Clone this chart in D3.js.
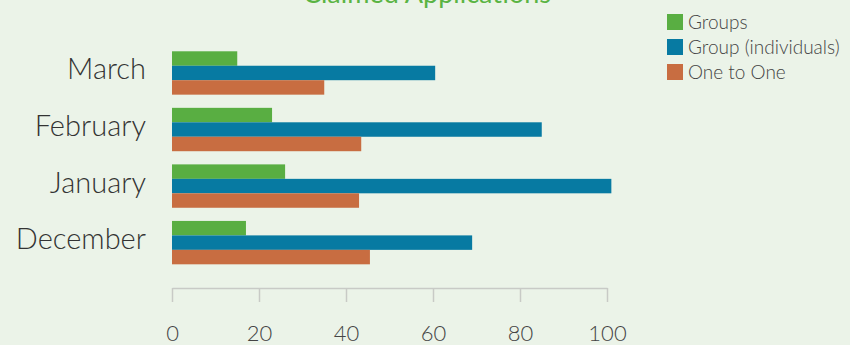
<!DOCTYPE html>
<html>
<head>
<meta charset="utf-8">
<script src="https://cdn.jsdelivr.net/npm/d3@7"></script>
<style>
  body { margin: 0; background: #ebf3e8; }
  svg { display: block; }
</style>
</head>
<body>
<svg id="chart"></svg>
<script>
const months = ["March", "February", "January", "December"];
const seriesNames = ["Groups", "Group (individuals)", "One to One"];
const groups = [15, 23, 26, 17];
const groupIndividuals = [60.5, 85, 101, 69];
const oneToOne = [35, 43.5, 43, 45.5];
const xTicks = [0, 20, 40, 60, 80, 100];

const colors = ["#59ae42", "#077aa2", "#c86d41"];
const fontFam = "'Gill Sans', Lato, 'Open Sans', sans-serif";

const W = 850, H = 345;
const svg = d3.select("#chart").attr("width", W).attr("height", H);

svg.append("rect").attr("width", W).attr("height", H).attr("fill", "#ebf3e8");

const x = d3.scaleLinear().domain([0, 100]).range([172, 607]);

const y = d3.scaleBand()
    .domain(months)
    .range([44.7, 270.9])
    .paddingInner(0.233)
    .paddingOuter(0.1165);

const sub = d3.scaleBand()
    .domain(seriesNames)
    .range([0, y.bandwidth()]);

const values = [groups, groupIndividuals, oneToOne];

// title (mostly cut off at the top)
svg.append("text")
    .attr("x", 427)
    .attr("y", 3)
    .attr("text-anchor", "middle")
    .style("font-family", fontFam)
    .style("font-size", "27px")
    .style("fill", "#5ab443")
    .text("Claimed Applications");

// bars
seriesNames.forEach((s, si) => {
    svg.append("g")
        .selectAll("rect")
        .data(months)
        .join("rect")
        .attr("x", x(0))
        .attr("y", m => y(m) + sub(s))
        .attr("width", (m, i) => x(values[si][i]) - x(0))
        .attr("height", sub.bandwidth())
        .attr("fill", colors[si]);
});

// category labels
svg.append("g")
    .selectAll("text")
    .data(months)
    .join("text")
    .attr("x", 146)
    .attr("y", m => y(m) + y.bandwidth() / 2 + 6.5)
    .attr("text-anchor", "end")
    .style("font-family", fontFam)
    .style("font-weight", 300)
    .style("font-size", "29px")
    .style("fill", "#333")
    .text(m => m);

// x axis
const xAxis = d3.axisBottom(x)
    .tickValues(xTicks)
    .tickSize(14)
    .tickPadding(23)
    .tickSizeOuter(0);

const ax = svg.append("g")
    .attr("transform", "translate(0,288)")
    .call(xAxis);
ax.select(".domain").attr("stroke", "#c8cac6").attr("stroke-width", 1.5);
ax.selectAll(".tick line").attr("stroke", "#c8cac6").attr("stroke-width", 1.5);
ax.selectAll(".tick text")
    .style("font-family", fontFam)
    .style("font-weight", 300)
    .style("font-size", "22px")
    .style("fill", "#444");

// legend
const legend = svg.append("g")
    .selectAll("g")
    .data(seriesNames)
    .join("g")
    .attr("transform", (d, i) => `translate(667,${14 + i * 25})`);

legend.append("rect")
    .attr("width", 16)
    .attr("height", 16)
    .attr("fill", (d, i) => colors[i]);

legend.append("text")
    .attr("x", 21)
    .attr("y", 8)
    .attr("dy", "0.35em")
    .style("font-family", fontFam)
    .style("font-weight", 300)
    .style("font-size", "19px")
    .style("fill", "#444")
    .text(d => d);
</script>
</body>
</html>
